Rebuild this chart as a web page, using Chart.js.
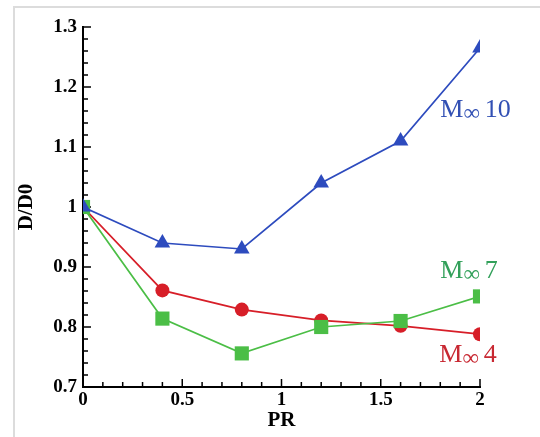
<!DOCTYPE html>
<html>
<head>
<meta charset="utf-8">
<script src="https://cdn.jsdelivr.net/npm/chart.js@4/dist/chart.umd.min.js"></script>
<style>
  html, body { margin: 0; padding: 0; background: #fff; }
</style>
</head>
<body>
<canvas id="myChart" width="540" height="437"></canvas>
<script>
const pr = [0, 0.4, 0.8, 1.2, 1.6, 2];
const mach10 = [1.0, 0.94, 0.93, 1.04, 1.11, 1.265];
const mach7 = [1.0, 0.814, 0.756, 0.80, 0.81, 0.851];
const mach4 = [1.0, 0.861, 0.829, 0.811, 0.802, 0.788];
const machNumbers = ['10', '7', '4'];
const xTickLabels = ['0', '0.5', '1', '1.5', '2'];
const yTickLabels = ['0.7', '0.8', '0.9', '1', '1.1', '1.2', '1.3'];

const blue = 'rgb(45, 75, 190)';
const green = 'rgb(75, 190, 70)';
const red = 'rgb(215, 30, 40)';

function points(values) {
    return pr.map((x, i) => ({ x: x, y: values[i] }));
}

// white page with the grey frame round the picture
const frame = {
    id: 'frame',
    beforeDraw(chart) {
        const ctx = chart.ctx;
        ctx.save();
        ctx.fillStyle = '#fff';
        ctx.fillRect(0, 0, chart.width, chart.height);
        ctx.strokeStyle = '#dcdcdc';
        ctx.lineWidth = 2;
        ctx.beginPath();
        ctx.moveTo(14, chart.height);
        ctx.lineTo(14, 7);
        ctx.lineTo(chart.width, 7);
        ctx.stroke();
        ctx.restore();
    }
};

// tecplot style ticks, pointing into the plot
const innerTicks = {
    id: 'innerTicks',
    beforeDatasetsDraw(chart) {
        const ctx = chart.ctx;
        const xs = chart.scales.x, ys = chart.scales.y;
        const area = chart.chartArea;
        ctx.save();
        ctx.strokeStyle = '#000';
        ctx.lineWidth = 1.5;
        ctx.beginPath();
        for (let i = 0; i <= 30; i++) {
            const y = ys.getPixelForValue(0.7 + i * 0.02);
            const len = i % 5 === 0 ? 8 : 5;
            ctx.moveTo(area.left, y);
            ctx.lineTo(area.left + len, y);
        }
        for (let i = 0; i <= 20; i++) {
            const x = xs.getPixelForValue(i * 0.1);
            const len = i % 5 === 0 ? 8 : 5;
            ctx.moveTo(x, area.bottom);
            ctx.lineTo(x, area.bottom - len);
        }
        ctx.stroke();
        ctx.restore();
    }
};

function drawMach(ctx, x, y, num, color) {
    ctx.fillStyle = color;
    ctx.textAlign = 'left';
    ctx.textBaseline = 'alphabetic';
    ctx.font = '26px "Liberation Serif"';
    ctx.fillText('M', x, y);
    let w = ctx.measureText('M').width;
    ctx.font = '23px "Liberation Serif"';
    ctx.fillText('\u221E', x + w, y + 3);
    w += ctx.measureText('\u221E').width + 5;
    ctx.font = '26px "Liberation Serif"';
    ctx.fillText(num, x + w, y);
}

const machLabels = {
    id: 'machLabels',
    afterDatasetsDraw(chart) {
        const ctx = chart.ctx;
        const xs = chart.scales.x, ys = chart.scales.y;
        ctx.save();
        drawMach(ctx, xs.getPixelForValue(1.8), ys.getPixelForValue(1.15), machNumbers[0], 'rgb(50, 80, 180)');
        drawMach(ctx, xs.getPixelForValue(1.8), ys.getPixelForValue(0.882), machNumbers[1], 'rgb(50, 160, 90)');
        drawMach(ctx, xs.getPixelForValue(1.795), ys.getPixelForValue(0.742), machNumbers[2], 'rgb(200, 40, 50)');
        ctx.restore();
    }
};

const tickFont = { family: '"Liberation Serif"', size: 19, weight: 'bold' };
const titleFont = { family: '"Liberation Serif"', size: 21, weight: 'bold' };

const data = {
    datasets: [{
        label: 'M10',
        data: points(mach10),
        borderColor: blue,
        backgroundColor: blue,
        borderWidth: 1.7,
        pointStyle: 'triangle',
        pointRadius: 9,
        pointBorderWidth: 0
    }, {
        label: 'M7',
        data: points(mach7),
        borderColor: green,
        backgroundColor: green,
        borderWidth: 1.7,
        pointStyle: 'rect',
        pointRadius: 10,
        pointBorderWidth: 0
    }, {
        label: 'M4',
        data: points(mach4),
        borderColor: red,
        backgroundColor: red,
        borderWidth: 1.7,
        pointStyle: 'circle',
        pointRadius: 7,
        pointBorderWidth: 0
    }]
};

const config = {
    type: 'line',
    data,
    options: {
        responsive: false,
        animation: false,
        layout: {
            padding: { top: 27, right: 60, bottom: 0, left: 0 }
        },
        plugins: {
            legend: { display: false },
            tooltip: { enabled: false }
        },
        scales: {
            x: {
                type: 'linear',
                min: 0,
                max: 2,
                afterFit(s) { s.height = 50; },
                ticks: {
                    stepSize: 0.5,
                    color: '#000',
                    font: tickFont,
                    padding: 2,
                    maxRotation: 0,
                    callback: (v, i) => xTickLabels[i]
                },
                grid: { display: true, drawOnChartArea: false, drawTicks: false },
                border: { color: '#000', width: 2 },
                title: {
                    display: true,
                    text: 'PR',
                    color: '#000',
                    font: titleFont,
                    padding: { top: 0, bottom: 4 }
                }
            },
            y: {
                min: 0.7,
                max: 1.3,
                afterFit(s) { s.width = 83; },
                ticks: {
                    stepSize: 0.1,
                    color: '#000',
                    font: tickFont,
                    padding: 6,
                    callback: (v, i) => yTickLabels[i]
                },
                grid: { display: true, drawOnChartArea: false, drawTicks: false },
                border: { color: '#000', width: 2 },
                title: {
                    display: true,
                    text: 'D/D0',
                    color: '#000',
                    font: titleFont,
                    padding: { top: 14, bottom: 0 }
                }
            }
        }
    },
    plugins: [frame, innerTicks, machLabels]
};

var myChart = new Chart(
    document.getElementById('myChart'),
    config
);
</script>
</body>
</html>
